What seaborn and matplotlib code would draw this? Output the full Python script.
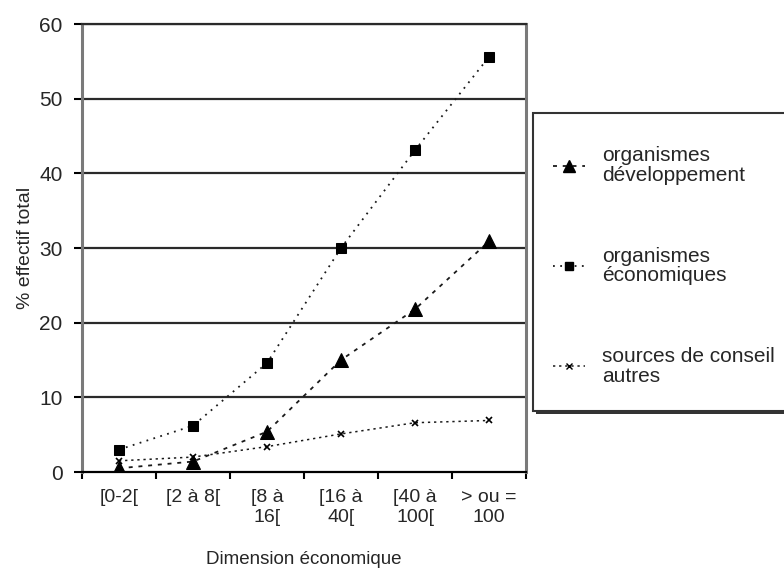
import matplotlib
matplotlib.use("Agg")
import matplotlib.pyplot as plt
from matplotlib.patches import Rectangle
from matplotlib.lines import Line2D
import seaborn as sns
import pandas as pd
import numpy as np

categories = ["[0-2[", "[2 à 8[", "[8 à\n16[", "[16 à\n40[", "[40 à\n100[", "> ou =\n100"]
developpement = [0.5, 1.4, 5.4, 15.0, 21.8, 30.9]
economiques = [3.0, 6.2, 14.6, 30.0, 43.1, 55.6]
autres = [1.5, 2.0, 3.4, 5.1, 6.6, 6.9]
series_labels = ["organismes\ndéveloppement", "organismes\néconomiques", "sources de conseil\nautres"]

sns.set_style("white")
plt.rcParams["font.family"] = ["Liberation Sans", "DejaVu Sans"]

fig = plt.figure(figsize=(7.84, 5.75), dpi=100)
W, H = 784, 575
ax = fig.add_axes([82 / W, (H - 472) / H, (526 - 82) / W, (472 - 24) / H])

pos = np.arange(len(categories))
df = pd.DataFrame({"pos": pos, "dev": developpement, "eco": economiques, "aut": autres})

ink = "#1a1a1a"
sns.lineplot(data=df, x="pos", y="dev", ax=ax, color=ink, lw=1.3,
             linestyle=(0, (2.2, 3.2)), marker="^", markersize=10,
             markeredgecolor="black", markerfacecolor="black", zorder=5)
sns.lineplot(data=df, x="pos", y="eco", ax=ax, color=ink, lw=1.3,
             linestyle=(0, (1, 3)), marker="s", markersize=7,
             markeredgecolor="black", markerfacecolor="black", zorder=5)
sns.lineplot(data=df, x="pos", y="aut", ax=ax, color=ink, lw=1.1,
             linestyle=(0, (1.5, 2.5)), marker="x", markersize=4,
             markeredgecolor="black", markeredgewidth=1.2, zorder=5)

ax.set_xlim(-0.5, len(categories) - 0.5)
ax.set_ylim(0, 60)

# horizontal gridlines
for y in range(10, 61, 10):
    ax.axhline(y, color="#2a2a2a", lw=1.6, zorder=1)

ax.set_yticks(range(0, 61, 10))
ax.set_yticklabels([str(v) for v in range(0, 61, 10)], fontsize=15)
ax.tick_params(axis="y", direction="out", length=6, width=1.5, color="black", pad=8, left=True)

# category boundaries as major ticks, category names as minor tick labels
ax.set_xticks(np.arange(-0.5, len(categories), 1.0))
ax.set_xticklabels([])
ax.set_xticks(pos, minor=True)
ax.set_xticklabels(categories, minor=True, fontsize=14, linespacing=1.25)
ax.tick_params(axis="x", which="major", direction="out", length=5, width=1.5, color="black", bottom=True)
ax.tick_params(axis="x", which="minor", length=0, pad=12)

for side in ["left", "right"]:
    ax.spines[side].set_color("#7a7a7a")
    ax.spines[side].set_linewidth(2.2)
ax.spines["bottom"].set_color("black")
ax.spines["bottom"].set_linewidth(1.6)
ax.spines["top"].set_color("#2a2a2a")
ax.spines["top"].set_linewidth(1.6)

ax.set_xlabel("Dimension économique", fontsize=13.5, labelpad=18)
ax.set_ylabel("% effectif total", fontsize=14, labelpad=4)

# legend box with drop shadow
box_x0, box_y0, box_x1, box_y1 = 533, 113, 800, 411
fig.patches.append(Rectangle(((box_x0 + 3) / W, (H - box_y1 - 3) / H),
                             (box_x1 - box_x0) / W, (box_y1 - box_y0) / H,
                             transform=fig.transFigure, facecolor="#333333",
                             edgecolor="none", zorder=0))
fig.patches.append(Rectangle((box_x0 / W, (H - box_y1) / H),
                             (box_x1 - box_x0) / W, (box_y1 - box_y0) / H,
                             transform=fig.transFigure, facecolor="white",
                             edgecolor="#333333", lw=1.5, zorder=1))

handles = [
    Line2D([], [], color=ink, lw=1.3, linestyle=(0, (2.2, 3.2)), marker="^",
           markersize=8, markerfacecolor="black", markeredgecolor="black"),
    Line2D([], [], color=ink, lw=1.3, linestyle=(0, (1, 3)), marker="s",
           markersize=6, markerfacecolor="black", markeredgecolor="black"),
    Line2D([], [], color=ink, lw=1.1, linestyle=(0, (1.5, 2.5)), marker="x",
           markersize=4, markeredgecolor="black"),
]
leg = fig.legend(handles, series_labels, loc="upper left",
                 bbox_to_anchor=(543 / W, (H - 136) / H),
                 frameon=False, fontsize=15, handlelength=1.5, handletextpad=0.85,
                 labelspacing=2.95, borderpad=0)
for t in leg.get_texts():
    t.set_linespacing(1.05)
leg.set_zorder(3)

fig.savefig("out.png", dpi=100)
